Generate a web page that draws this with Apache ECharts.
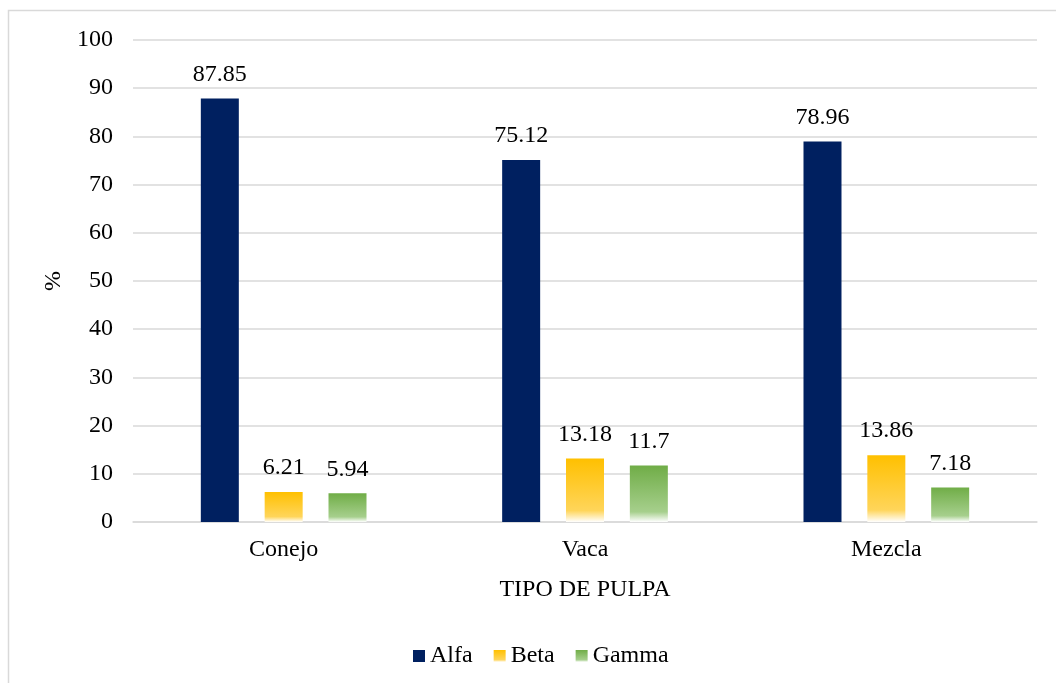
<!DOCTYPE html>
<html>
<head>
<meta charset="utf-8">
<script src="https://cdn.jsdelivr.net/npm/echarts@6/dist/echarts.min.js"></script>
<style>
  html, body { margin: 0; padding: 0; background: #fff; }
  #chart { width: 1056px; height: 683px; }
</style>
</head>
<body>
<div id="chart"></div>
<script>
// Categories and series values
const categories = ['Conejo', 'Vaca', 'Mezcla'];
const alfa = [87.85, 75.12, 78.96];
const beta = [6.21, 13.18, 13.86];
const gamma = [5.94, 11.7, 7.18];
const yTicks = [0, 10, 20, 30, 40, 50, 60, 70, 80, 90, 100];

const FONT = '"Liberation Serif", "Times New Roman", serif';
const TEXT = '#000000';
const SIZE = 24;

function fade(top, mid) {
  return new echarts.graphic.LinearGradient(0, 0, 0, 1, [
    { offset: 0, color: top },
    { offset: 0.82, color: mid },
    { offset: 1, color: '#FFFFFF' }
  ]);
}

const labelStyle = {
  show: true,
  position: 'top',
  distance: 12,
  color: TEXT,
  fontFamily: FONT,
  fontSize: SIZE
};

function series(name, data, color) {
  return {
    name: name,
    type: 'bar',
    data: data,
    barWidth: 38,
    barGap: '68%',
    itemStyle: { color: color },
    label: labelStyle
  };
}

const chart = echarts.init(document.getElementById('chart'), null, { renderer: 'canvas' });
chart.setOption({
  backgroundColor: '#FFFFFF',
  animation: false,
  graphic: [{
    type: 'rect',
    shape: { x: 8.5, y: 10.5, width: 1100, height: 700 },
    style: { fill: 'none', stroke: '#D9D9D9', lineWidth: 1.5 },
    silent: true
  }],
  grid: { left: 133, right: 19, top: 40, bottom: 161 },
  legend: {
    bottom: 10,
    left: 408,
    itemWidth: 12,
    itemHeight: 12,
    itemGap: 21,
    icon: 'rect',
    textStyle: { color: TEXT, fontFamily: FONT, fontSize: SIZE },
    data: ['Alfa', 'Beta', 'Gamma']
  },
  xAxis: {
    type: 'category',
    data: categories,
    name: 'TIPO DE PULPA',
    nameLocation: 'middle',
    nameGap: 56,
    nameTextStyle: { color: TEXT, fontFamily: FONT, fontSize: SIZE },
    axisLine: { show: true, lineStyle: { color: '#D9D9D9', width: 1.5 } },
    axisTick: { show: false },
    axisLabel: { color: TEXT, fontFamily: FONT, fontSize: SIZE, margin: 16 }
  },
  yAxis: {
    type: 'value',
    min: yTicks[0],
    max: yTicks[yTicks.length - 1],
    interval: 10,
    name: '%',
    nameLocation: 'middle',
    nameGap: 61,
    nameTextStyle: { color: TEXT, fontFamily: FONT, fontSize: SIZE },
    axisLine: { show: false },
    axisTick: { show: false },
    axisLabel: { color: TEXT, fontFamily: FONT, fontSize: SIZE, margin: 20 },
    splitLine: { lineStyle: { color: '#D9D9D9', width: 1.5 } }
  },
  series: [
    series('Alfa', alfa, '#002060'),
    series('Beta', beta, fade('#FFC000', '#FFD55A')),
    series('Gamma', gamma, fade('#70AD47', '#A6CF8C'))
  ]
});
</script>
</body>
</html>
